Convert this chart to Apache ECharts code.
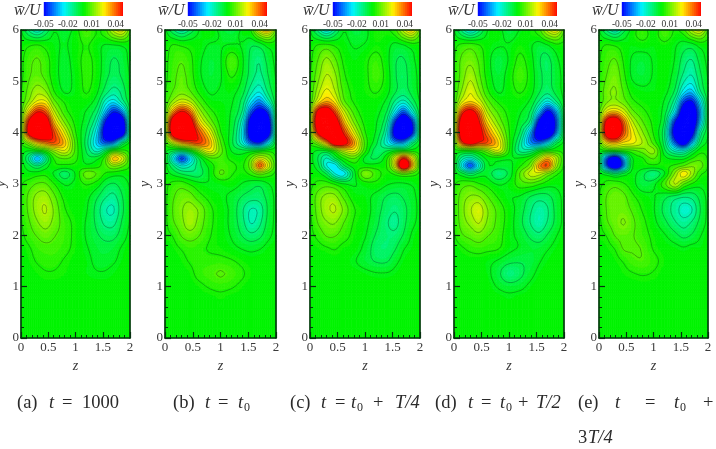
<!DOCTYPE html>
<html><head><meta charset="utf-8">
<style>html,body{margin:0;padding:0;background:#fff}#c{width:716px;height:449px;filter:blur(0.55px)}</style>
<script src="https://cdn.jsdelivr.net/npm/echarts@6/dist/echarts.min.js"></script>
</head><body><div id="c"></div>
<script>
// Values, in units of 0.001 (w/U x 1000); rows follow yNodes, columns follow zNodes.
const zNodes=[0,.15,.3,.45,.6,.8,1,1.2,1.4,1.55,1.7,1.85,2];
const yNodes=[6,5.9,5.7,5.4,5.1,4.8,4.6,4.4,4.2,4,3.8,3.65,3.5,3.35,3.2,3,2.75,2.5,2.25,2,1.75,1.5,1.25,1,.75,0];
const wA=[
[-2,-14,-22,-12,-3,-6,0,8,2,6,20,26,8],
[-1,-8,-12,-7,-2,-4,0,6,2,4,12,16,5],
[0,2,3,1,-1,-3,0,3,-1,-3,-3,-2,0],
[1,6,8,5,0,-4,0,4,0,-5,-8,-6,-1],
[1,7,9,6,0,-4,-1,4,0,-6,-9,-7,-2],
[2,10,16,13,3,-3,-1,3,-2,-10,-15,-11,-2],
[3,14,24,24,10,2,0,0,-6,-20,-26,-16,-4],
[4,30,48,42,20,5,0,-3,-12,-32,-48,-38,-7],
[6,52,70,62,32,12,1,-5,-20,-50,-70,-65,-10],
[6,55,72,65,44,22,3,-8,-28,-58,-72,-65,-10],
[2,15,30,38,42,30,6,-10,-30,-42,-38,-14,0],
[0,-2,0,5,15,22,6,-8,-20,-10,2,4,1],
[0,-14,-32,-14,3,8,4,-5,-4,6,30,22,3],
[0,-6,-12,-5,1,1,1,-1,1,6,13,9,2],
[0,-1,0,1,-3,-10,-2,10,7,2,0,-1,0],
[2,5,8,8,3,-3,-1,3,0,-6,-8,-5,-2],
[2,9,14,15,9,1,0,-1,-7,-12,-14,-8,-2],
[2,9,15,18,12,3,0,-2,-10,-17,-18,-9,-2],
[2,7,12,15,11,5,1,-3,-9,-14,-14,-7,-2],
[1,5,8,10,8,5,1,-3,-7,-9,-9,-5,-1],
[0,2,5,6,6,4,1,-2,-5,-6,-5,-2,0],
[0,1,3,4,4,2,0,-1,-4,-4,-3,-1,0],
[0,0,1,2,2,1,0,-1,-2,-2,-1,0,0],
[0,0,0,0,0,0,0,0,0,0,0,0,0],
[0,0,0,0,0,0,0,0,0,0,0,0,0],
[0,0,0,0,0,0,0,0,0,0,0,0,0]];
const wB=[
[-1,-12,-20,-12,-3,1,-4,-7,-1,3,25,35,10],
[0,-6,-10,-6,-2,0,-3,-5,-1,0,12,18,5],
[0,3,2,1,0,-3,-3,-2,-3,-7,-6,-1,0],
[1,5,7,4,-1,-5,-3,7,-2,-9,-12,-6,-1],
[1,6,9,5,-1,-5,-3,3,-3,-10,-14,-8,-2],
[2,8,11,8,2,-3,-2,-1,-6,-16,-22,-12,-3],
[3,15,22,18,8,0,-1,-2,-10,-26,-36,-22,-4],
[5,36,50,40,18,5,0,-3,-14,-42,-56,-46,-6],
[8,62,72,58,30,12,1,-4,-22,-58,-72,-62,-8],
[8,62,72,62,44,24,3,-5,-26,-60,-72,-62,-8],
[3,20,34,40,44,32,8,-6,-22,-42,-48,-28,-3],
[-1,-6,-8,0,12,25,10,-3,-6,-6,-4,0,0],
[-1,-24,-44,-27,-8,6,6,1,0,8,20,14,2],
[0,-12,-22,-18,-10,-1,6,4,2,12,40,22,3],
[0,-4,-8,-10,-10,-2,8,3,1,4,10,6,1],
[1,4,5,2,-1,-2,-1,0,-3,-5,-6,-3,0],
[1,7,10,10,5,1,-1,-4,-8,-10,-10,-6,-1],
[1,8,12,15,12,4,0,-4,-12,-18,-16,-7,-1],
[1,7,11,16,11,4,0,-4,-11,-18,-14,-6,-1],
[1,3,8,10,8,3,0,-3,-8,-11,-9,-4,-1],
[0,1,3,5,4,2,1,-1,-3,-4,-3,-1,0],
[0,0,1,3,4,4,4,3,1,0,0,0,0],
[0,0,0,1,4,6,8,6,3,1,0,0,0],
[0,0,0,0,1,3,4,3,1,0,0,0,0],
[0,0,0,0,0,0,1,0,0,0,0,0,0],
[0,0,0,0,0,0,0,0,0,0,0,0,0]];
const wC=[
[-2,-15,-26,-15,-3,-6,-4,2,2,6,20,30,10],
[-1,-8,-14,-8,-2,-5,-4,2,1,3,12,18,6],
[0,3,4,2,0,-3,-2,1,-1,-4,-3,0,1],
[1,8,14,9,2,-1,1,5,-1,-7,-8,-4,0],
[2,11,18,14,4,0,1,6,0,-7,-9,-5,-1],
[2,16,24,18,7,1,1,3,-1,-7,-10,-6,-1],
[3,24,33,26,10,2,0,0,-4,-14,-20,-11,-2],
[8,55,62,44,22,6,0,-1,-8,-26,-42,-24,-4],
[10,66,74,62,34,12,1,-2,-14,-48,-70,-50,-6],
[8,52,72,72,48,22,3,-3,-20,-58,-72,-52,-6],
[3,14,34,60,56,34,6,-6,-22,-34,-34,-15,-2],
[0,-3,-2,8,20,24,4,-10,-8,-4,-2,0,0],
[0,-8,-18,-8,2,8,-4,-8,2,22,46,26,2],
[0,-6,-22,-26,-10,0,0,0,3,24,66,34,2],
[0,-1,-8,-22,-26,-5,12,5,1,4,10,6,1],
[1,4,5,2,-2,-3,0,1,-2,-3,-3,-2,0],
[2,10,14,14,7,0,-1,-4,-8,-9,-7,-4,-1],
[2,10,16,18,12,3,0,-5,-10,-12,-9,-5,-1],
[1,8,12,13,8,2,-1,-6,-12,-14,-9,-4,-1],
[1,4,8,8,5,1,-2,-8,-11,-11,-7,-2,0],
[0,1,2,3,1,0,-4,-10,-11,-8,-3,-1,0],
[0,0,0,0,0,-2,-5,-8,-8,-4,-1,0,0],
[0,0,0,0,0,0,-1,-2,-2,-1,0,0,0],
[0,0,0,0,0,0,0,0,0,0,0,0,0],
[0,0,0,0,0,0,0,0,0,0,0,0,0],
[0,0,0,0,0,0,0,0,0,0,0,0,0]];
const wD=[
[-2,-15,-25,-15,-3,0,-7,-2,1,6,20,28,8],
[-1,-8,-13,-8,-2,0,-5,-1,1,3,12,16,5],
[1,4,5,3,0,-2,-2,1,-2,-5,-3,1,1],
[2,9,11,7,0,-6,-2,4,-1,-7,-9,-4,0],
[2,10,16,9,1,-5,0,6,0,-6,-9,-5,-1],
[2,14,22,14,4,-3,0,3,-1,-7,-11,-6,-1],
[3,22,28,22,10,2,0,0,-4,-14,-24,-14,-2],
[5,44,54,40,18,7,1,-2,-9,-30,-52,-36,-4],
[8,62,70,50,28,12,2,-4,-16,-54,-70,-46,-5],
[8,64,72,56,38,20,3,-8,-34,-64,-70,-40,-4],
[4,44,56,46,42,28,4,-14,-36,-40,-28,-10,-1],
[1,2,3,6,12,22,3,-14,-14,-5,0,2,1],
[0,-15,-20,-10,-1,0,-2,-2,3,16,30,18,2],
[0,-25,-42,-22,-4,-4,-4,2,12,35,42,16,1],
[0,-6,-12,-6,-4,-12,-6,8,20,20,12,4,0],
[2,5,6,3,1,-3,-1,5,6,3,0,-1,0],
[3,10,13,13,8,2,-2,-3,-8,-10,-9,-5,-1],
[3,11,17,21,13,6,0,-5,-12,-16,-13,-6,-1],
[3,10,14,18,12,6,0,-6,-13,-17,-12,-6,-1],
[2,7,9,11,8,5,-1,-4,-9,-11,-7,-3,0],
[0,2,4,5,4,3,-1,-3,-5,-5,-3,-1,0],
[0,0,0,0,-1,-3,-6,-7,-6,-3,-1,0,0],
[0,0,0,0,-1,-6,-12,-9,-4,-1,0,0,0],
[0,0,0,0,0,-3,-5,-4,-1,0,0,0,0],
[0,0,0,0,0,0,-1,0,0,0,0,0,0],
[0,0,0,0,0,0,0,0,0,0,0,0,0]];
const wE=[
[-2,-14,-22,-10,-1,5,-1,7,2,6,18,25,6],
[-1,-7,-11,-5,0,5,0,6,1,2,10,14,4],
[1,3,2,0,-1,0,-1,1,-2,-5,-5,-1,0],
[2,6,8,2,-3,-5,-2,0,-3,-10,-13,-6,-1],
[2,8,11,4,-3,-5,-2,0,-5,-14,-18,-9,-2],
[3,11,13,7,1,-1,-1,-1,-9,-25,-30,-14,-3],
[3,12,14,10,4,1,0,-3,-17,-44,-50,-28,-4],
[6,26,30,22,10,4,0,-5,-28,-62,-66,-36,-5],
[10,56,64,40,20,8,1,-8,-50,-70,-68,-32,-4],
[10,60,66,42,26,13,2,-12,-58,-70,-58,-18,-3],
[7,28,32,26,24,17,6,-10,-42,-58,-34,-9,-1],
[0,2,3,4,6,10,14,-6,-20,-22,-10,0,1],
[-5,-42,-60,-32,-4,2,8,-1,-4,-4,2,6,2],
[-4,-44,-66,-38,-4,0,1,1,4,8,12,10,2],
[-1,-6,-12,-6,-1,-6,-12,-3,14,26,16,4,1],
[1,4,5,3,0,-6,-4,6,18,8,2,-1,0],
[2,8,10,9,4,0,-2,-6,-10,-12,-11,-6,-1],
[2,8,10,10,7,2,-2,-9,-15,-20,-18,-8,-1],
[1,7,10,13,9,4,-1,-6,-12,-15,-12,-6,-1],
[1,3,8,9,8,5,1,-2,-6,-9,-7,-3,0],
[0,1,3,8,8,7,2,0,-1,-2,-1,-1,0],
[0,0,1,3,6,7,4,1,0,0,0,0,0],
[0,0,0,1,2,3,2,0,0,0,0,0,0],
[0,0,0,0,0,0,0,0,0,0,0,0,0],
[0,0,0,0,0,0,0,0,0,0,0,0,0],
[0,0,0,0,0,0,0,0,0,0,0,0,0]];
const panels=[wA,wB,wC,wD,wE];
const colorbarTickLabels=[-0.05,-0.02,0.01,0.04];
const axisZTicks=[0,0.5,1,1.5,2];
const axisYTicks=[0,1,2,3,4,5,6];
const colorbarTitle='w\u0304/U';
const captionA=[['(a)',17,'n'],['t',49,'i'],['=',62,'n'],['1000',82,'n']];
const captionB=[['(b)',173,'n'],['t',205,'i'],['=',218,'n'],['t',238,'i'],['0',244,'s']];
const captionC=[['(c)',290,'n'],['t',321,'i'],['=',335,'n'],['t',351,'i'],['0',357,'s'],['+',373,'n'],['T/4',395,'i']];
const captionD=[['(d)',435,'n'],['t',468,'i'],['=',481,'n'],['t',500,'i'],['0',506,'s'],['+',518,'n'],['T/2',536,'i']];
const captionE=[['(e)',578,'n'],['t',615,'i'],['=',645,'n'],['t',674,'i'],['0',680,'s'],['+',703,'n']];
const captionE2=[['3',578,'n'],['T/4',588,'i']];

const gridBoxes=[[21,109],[165,111],[310,110],[454,110],[599,109]];
const barBoxes=[[43,80],[187,80],[332,80],[477,80],[621,80]];
const titleX=[14,158,303,448,592], SUB=4, FILLSTEP=2, LINESTEP=5;
const serif='"Liberation Serif"';

function ramp(v){
  const t=Math.max(-1,Math.min(1,v/50))*2+2, G=244;
  const stops=[[0,0,255],[0,G,255],[0,G,0],[255,G,0],[255,0,0]];
  const k=Math.min(3,Math.floor(t)),f=t-k,a=stops[k],b=stops[k+1];
  return 'rgb('+a.map((c,i)=>Math.round(c+(b[i]-c)*f)).join(',')+')';
}
function fineAxis(n){const o=[];for(let i=0;i<n.length-1;i++)for(let s=0;s<SUB;s++)o.push(n[i]+(n[i+1]-n[i])*s/SUB);o.push(n[n.length-1]);return o;}
function spline(nodes,vals){ // smooth drawing curve through the read values
  const m=nodes.length,tan=vals.map((_,i)=>{const a=Math.max(0,i-1),b=Math.min(m-1,i+1);return (vals[b]-vals[a])/(nodes[b]-nodes[a]);});
  const out=[];
  for(let i=0;i<m-1;i++){const h=nodes[i+1]-nodes[i];
    for(let s=0;s<SUB;s++){const u=s/SUB,u2=u*u,u3=u2*u;
      out.push((2*u3-3*u2+1)*vals[i]+(u3-2*u2+u)*h*tan[i]+(-2*u3+3*u2)*vals[i+1]+(u3-u2)*h*tan[i+1]);}}
  out.push(vals[m-1]);return out;
}
const zFine=fineAxis(zNodes), yFine=fineAxis(yNodes);
const surfaces=panels.map(rows=>{
  const hor=rows.map(r=>spline(zNodes,r)); const cols=zFine.map((_,c)=>spline(yNodes,hor.map(r=>r[c])));
  return yFine.map((_,r)=>zFine.map((_,c)=>cols[c][r]));
});
function clip(poly,lo,hi){
  const cut=(p,lim,keep)=>{const o=[];for(let i=0;i<p.length;i++){const a=p[i],b=p[(i+1)%p.length],ia=keep(a[2]),ib=keep(b[2]);
    if(ia)o.push(a); if(ia!==ib){const t=(lim-a[2])/(b[2]-a[2]);o.push([a[0]+(b[0]-a[0])*t,a[1]+(b[1]-a[1])*t,lim]);}}return o;};
  let r=cut(poly,lo,v=>v>=lo); if(r.length)r=cut(r,hi,v=>v<=hi); return r;
}
function subTris(S,i,j,api){
  const out=[];
  for(let r=j*SUB;r<(j+1)*SUB;r++)for(let c=i*SUB;c<(i+1)*SUB;c++){
    const P=(rr,cc)=>{const q=api.coord([zFine[cc],yFine[rr]]);return [q[0],q[1],S[rr][cc]];};
    out.push([P(r,c),P(r,c+1),P(r+1,c+1),P(r+1,c)]);
  }
  return out;
}
function fillItem(S){return (params,api)=>{
  const kids=[],i=api.value(2),j=api.value(3);
  const add=(pts,k)=>{const col=ramp(k*FILLSTEP);kids.push({type:'polygon',silent:true,shape:{points:pts.map(p=>[p[0],p[1]])},style:{fill:col,stroke:col,lineWidth:.7}});};
  for(const q of subTris(S,i,j,api)){
    const ks=q.map(p=>Math.round(p[2]/FILLSTEP));
    if(Math.min(...ks)===Math.max(...ks)){add(q,ks[0]);continue;}
    for(const t of [[q[0],q[1],q[2]],[q[0],q[2],q[3]]]){
      const vs=t.map(p=>p[2]),lo=Math.round(Math.min(...vs)/FILLSTEP),hi=Math.round(Math.max(...vs)/FILLSTEP);
      for(let k=lo;k<=hi;k++){const g=clip(t,(k-.5)*FILLSTEP,(k+.5)*FILLSTEP);if(g.length>2)add(g,k);}
    }
  }
  return {type:'group',children:kids};
};}
function lineItem(S){return (params,api)=>{
  let d='';
  for(let j=0;j<yNodes.length-1;j++)for(let i=0;i<zNodes.length-1;i++){
    for(const q of subTris(S,i,j,api)){
      for(const t of [[q[0],q[1],q[2]],[q[0],q[2],q[3]]]){
        const vs=t.map(p=>p[2]),mn=Math.min(...vs),mx=Math.max(...vs);
        for(let L=-47.5;L<=47.5;L+=LINESTEP){
          if(L<mn||L>=mx)continue;
          const pts=[];
          for(let e=0;e<3;e++){const a=t[e],b=t[(e+1)%3];
            if((a[2]<L)!==(b[2]<L)){const f=(L-a[2])/(b[2]-a[2]);pts.push([a[0]+(b[0]-a[0])*f,a[1]+(b[1]-a[1])*f]);}}
          if(pts.length===2)d+='M'+pts[0][0].toFixed(2)+' '+pts[0][1].toFixed(2)+'L'+pts[1][0].toFixed(2)+' '+pts[1][1].toFixed(2);
        }
      }
    }
  }
  return {type:'path',silent:true,shape:{pathData:d},style:{fill:null,stroke:'rgba(10,50,20,0.5)',lineWidth:.7}};
};}
const cellData=[];
for(let j=0;j<yNodes.length-1;j++)for(let i=0;i<zNodes.length-1;i++)cellData.push([zNodes[i],yNodes[j],i,j]);
const lineData=[[0,0]];
const barStops=[];for(let v=-50;v<50;v+=2.5)barStops.push(v/1000);

const grid=[],xAxis=[],yAxis=[],series=[],graphic=[];
const edge={lineStyle:{color:'#06300f',width:1.6}};
const axisFont={fontFamily:serif,fontSize:13,color:'#3a3a3a'};
panels.forEach((_,p)=>{
  const [l,w]=gridBoxes[p];
  const gi=grid.length; grid.push({left:l,top:30,width:w,height:308,outerBoundsMode:'none',containLabel:false});
  const xa=xAxis.length, ya=yAxis.length;
  xAxis.push({gridIndex:gi,type:'value',min:0,max:2,interval:.5,position:'bottom',z:10,splitLine:{show:false},
    axisLine:{show:true,onZero:false,...edge},axisTick:{inside:true,length:6,lineStyle:{color:'#06300f',width:1.2}},
    minorTick:{show:true,splitNumber:5,length:3,lineStyle:{color:'#06300f',width:1}},
    axisLabel:{...axisFont,margin:3,customValues:axisZTicks,formatter:v=>String(v)},
    name:'z',nameLocation:'middle',nameGap:16,nameTextStyle:{fontFamily:serif,fontStyle:'italic',fontSize:14,color:'#3a3a3a'}});
  xAxis.push({gridIndex:gi,type:'value',min:0,max:2,position:'top',z:10,splitLine:{show:false},axisLine:{show:true,onZero:false,...edge},axisTick:{show:false},axisLabel:{show:false}});
  yAxis.push({gridIndex:gi,type:'value',min:0,max:6,interval:1,position:'left',z:10,splitLine:{show:false},
    axisLine:{show:true,onZero:false,...edge},axisTick:{inside:true,length:6,lineStyle:{color:'#06300f',width:1.2}},
    minorTick:{show:true,splitNumber:5,length:3,lineStyle:{color:'#06300f',width:1}},
    axisLabel:{...axisFont,margin:2,customValues:axisYTicks,formatter:v=>String(v)},
    name:'y',nameLocation:'middle',nameGap:13,nameRotate:90,nameTextStyle:{fontFamily:serif,fontStyle:'italic',fontSize:14,color:'#3a3a3a'}});
  yAxis.push({gridIndex:gi,type:'value',min:0,max:6,position:'right',z:10,splitLine:{show:false},axisLine:{show:true,onZero:false,...edge},axisTick:{show:false},axisLabel:{show:false}});
  const base={type:'custom',coordinateSystem:'cartesian2d',xAxisIndex:xa,yAxisIndex:ya,encode:{x:0,y:1},animation:false,silent:true,clip:false};
  series.push({...base,name:'fill '+p,z:2,data:cellData,renderItem:fillItem(surfaces[p])});
  series.push({...base,name:'contours '+p,z:3,data:lineData,renderItem:lineItem(surfaces[p])});

  const [bl,bw]=barBoxes[p];
  const bg=grid.length; grid.push({left:bl,top:2,width:bw,height:14,outerBoundsMode:'none',containLabel:false});
  const bx=xAxis.length, by=yAxis.length;
  xAxis.push({gridIndex:bg,type:'value',min:-0.051,max:0.049,position:'bottom',splitLine:{show:false},axisLine:{show:false,onZero:false},axisTick:{show:false},
    axisLabel:{fontFamily:serif,fontSize:9.5,color:'#333',margin:3,customValues:colorbarTickLabels,formatter:v=>v.toFixed(2)}});
  yAxis.push({gridIndex:bg,type:'value',min:0,max:1,show:false});
  series.push({type:'custom',coordinateSystem:'cartesian2d',xAxisIndex:bx,yAxisIndex:by,animation:false,silent:true,
    name:'colorbar '+p,data:barStops.map(v=>[v,0]),encode:{x:0,y:1},clip:true,
    renderItem:(params,api)=>{const v=api.value(0),a=api.coord([v,1]),b=api.coord([v+0.0025,0]);const col=ramp((v+0.00125)*1000);
      return {type:'rect',shape:{x:a[0],y:a[1],width:b[0]-a[0]+.5,height:b[1]-a[1]},style:{fill:col}};}});
  graphic.push({type:'text',left:titleX[p],top:3,silent:true,style:{text:colorbarTitle,fontFamily:serif,fontStyle:'italic',fontSize:16,fill:'#333'}});
});
[[captionA,403],[captionB,403],[captionC,403],[captionD,403],[captionE,403],[captionE2,438]].forEach(([frags,cy])=>{
  frags.forEach(([txt,x,kind])=>{
    graphic.push({type:'text',x:x,y:kind==='s'?cy+5:cy,silent:true,style:{text:txt,fontFamily:serif,fontStyle:kind==='i'?'italic':'normal',fontSize:kind==='s'?12:18.5,fill:'#2a2a2a',verticalAlign:'middle'}});
  });
});
const chart=echarts.init(document.getElementById('c'),null,{renderer:'canvas',width:716,height:449});
chart.setOption({backgroundColor:'#fff',animation:false,grid,xAxis,yAxis,series,graphic});
</script></body></html>
